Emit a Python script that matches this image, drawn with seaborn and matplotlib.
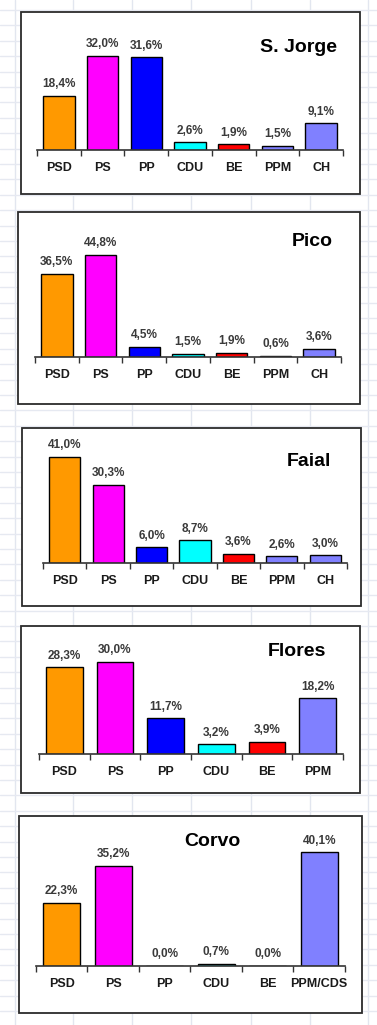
import numpy as np
import matplotlib
matplotlib.use('Agg')
import matplotlib.pyplot as plt
import seaborn as sns
from matplotlib.patches import Rectangle

sns.set_style('white')
plt.rcParams['font.family'] = ['Liberation Sans', 'DejaVu Sans']

W, H = 377, 1025

# data per island
sjorge_parties = ['PSD', 'PS', 'PP', 'CDU', 'BE', 'PPM', 'CH']
sjorge_values = [18.4, 32.0, 31.6, 2.6, 1.9, 1.5, 9.1]

pico_parties = ['PSD', 'PS', 'PP', 'CDU', 'BE', 'PPM', 'CH']
pico_values = [36.5, 44.8, 4.5, 1.5, 1.9, 0.6, 3.6]

faial_parties = ['PSD', 'PS', 'PP', 'CDU', 'BE', 'PPM', 'CH']
faial_values = [41.0, 30.3, 6.0, 8.7, 3.6, 2.6, 3.0]

flores_parties = ['PSD', 'PS', 'PP', 'CDU', 'BE', 'PPM']
flores_values = [28.3, 30.0, 11.7, 3.2, 3.9, 18.2]

corvo_parties = ['PSD', 'PS', 'PP', 'CDU', 'BE', 'PPM/CDS']
corvo_values = [22.3, 35.2, 0.0, 0.7, 0.0, 40.1]

party_colors = {'PSD': '#FF9900', 'PS': '#FF00FF', 'PP': '#0000FF', 'CDU': '#00FFFF',
                'BE': '#FF0000', 'PPM': '#8080FF', 'CH': '#8080FF', 'PPM/CDS': '#8080FF'}

# layout in pixels: box, axes x range, baseline, ymax, px per %, title pos
panels = [
    dict(name='S. Jorge', parties=sjorge_parties, values=sjorge_values,
         box=(21, 12, 360, 194), ax_x=(37, 343), base=150, scale=2.94, ymax=40,
         title=(337, 47, 'right')),
    dict(name='Pico', parties=pico_parties, values=pico_values,
         box=(18, 212, 360, 404), ax_x=(35, 341), base=357, scale=2.28, ymax=50,
         title=(333, 242, 'right')),
    dict(name='Faial', parties=faial_parties, values=faial_values,
         box=(22, 428, 361, 606), ax_x=(43, 347), base=563, scale=2.59, ymax=45,
         title=(331, 462, 'right')),
    dict(name='Flores', parties=flores_parties, values=flores_values,
         box=(21, 626, 360, 793), ax_x=(39, 343), base=754, scale=3.07, ymax=35,
         title=(326, 652, 'right')),
    dict(name='Corvo', parties=corvo_parties, values=corvo_values,
         box=(19, 816, 362, 1013), ax_x=(36, 345), base=966, scale=2.84, ymax=45,
         title=(212, 842, 'center')),
]

fig = plt.figure(figsize=(W / 100, H / 100), dpi=100)
fig.patch.set_facecolor('white')

# spreadsheet background
bg = fig.add_axes([0, 0, 1, 1])
bg.set_xlim(0, W)
bg.set_ylim(H, 0)
bg.axis('off')
for gx in [15, 73, 132, 191, 251, 310, 368]:
    bg.axvline(gx, color='#e2e6ef', lw=1, zorder=0)
for gy in np.arange(10, H, 15.4):
    bg.axhline(gy, color='#e6e9f1', lw=1, zorder=0)

for p in panels:
    x0, y0, x1, y1 = p['box']
    bg.add_patch(Rectangle((x0, y0), x1 - x0, y1 - y0, facecolor='white',
                           edgecolor='#2b2b2b', lw=1.3, zorder=2))
    tx, ty, ha = p['title']
    bg.text(tx, ty, p['name'], ha=ha, va='center', fontsize=14,
            fontweight='bold', color='black', zorder=3)

    ax_left, ax_right = p['ax_x']
    top = p['base'] - p['ymax'] * p['scale']
    ax = fig.add_axes([ax_left / W, 1 - p['base'] / H,
                       (ax_right - ax_left) / W, (p['base'] - top) / H])
    ax.patch.set_alpha(0)
    n = len(p['parties'])
    sns.barplot(x=p['parties'], y=p['values'], hue=p['parties'],
                palette=[party_colors[c] for c in p['parties']], legend=False,
                saturation=1, width=0.72, edgecolor='black', linewidth=1, ax=ax)
    ax.set_xlim(-0.5, n - 0.5)
    ax.set_ylim(0, p['ymax'])
    for s in ['top', 'right', 'left']:
        ax.spines[s].set_visible(False)
    ax.spines['bottom'].set_color('#333333')
    ax.spines['bottom'].set_linewidth(1.2)
    ax.set_yticks([])
    ax.set_xticks(np.arange(-0.5, n, 1.0), minor=True)
    ax.tick_params(axis='x', which='minor', direction='out', length=4,
                   width=1, color='#333333', bottom=True)
    ax.tick_params(axis='x', which='major', length=0, pad=8.5)
    for lab in ax.get_xticklabels():
        lab.set_fontsize(9)
        lab.set_fontweight('bold')
        lab.set_color('#1a1a1a')
    ax.set_xlabel('')
    ax.set_ylabel('')
    for i, v in enumerate(p['values']):
        ax.annotate(f'{v:.1f}%'.replace('.', ','), (i, v), xytext=(0, 4),
                    textcoords='offset points', ha='center', va='bottom',
                    fontsize=8.5, fontweight='bold', color='#3a3a3a')

fig.savefig('out.png', dpi=100, facecolor='white')
